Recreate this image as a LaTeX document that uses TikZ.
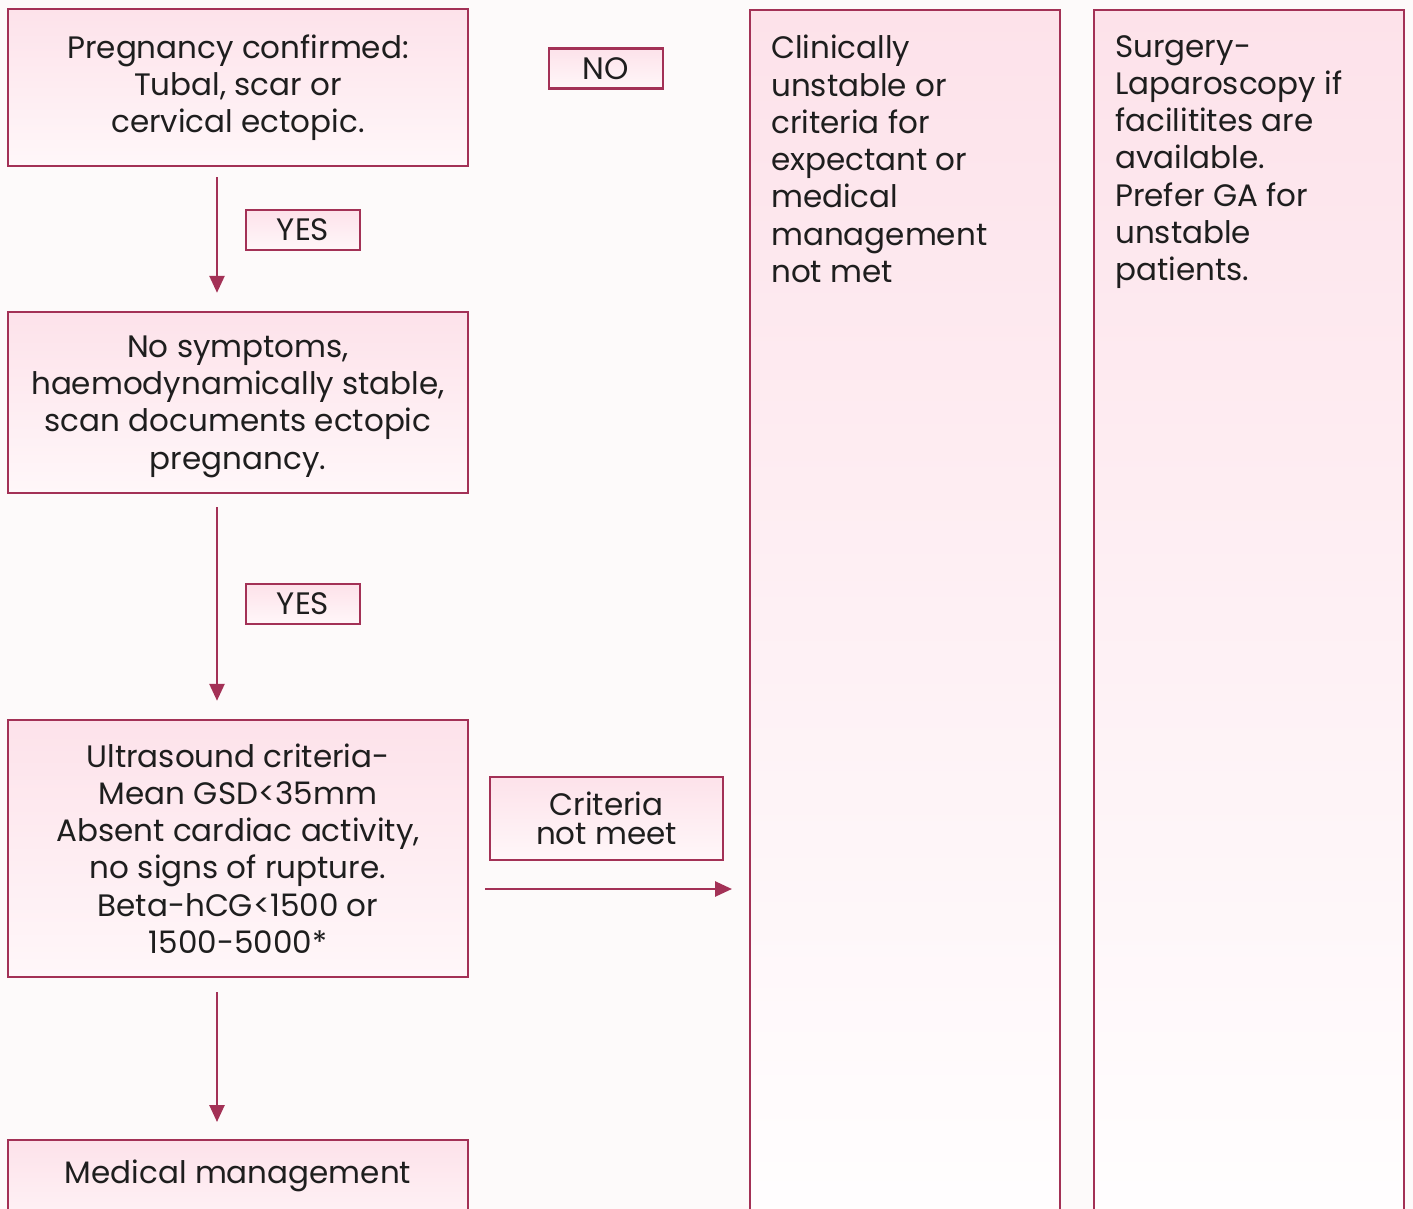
\documentclass[tikz,border=0pt]{standalone}
\usepackage{fontspec}
\setmainfont{Poppins}
\usetikzlibrary{arrows.meta, positioning, calc}
\definecolor{primary}{RGB}{163,49,86}
\definecolor{cardtop}{RGB}{253,226,234}
\definecolor{cardbot}{RGB}{255,247,249}
\definecolor{paper}{RGB}{253,250,250}
\definecolor{ink}{RGB}{30,30,30}

\tikzset{
  flowbox/.style={draw=primary, line width=2.4pt, top color=cardtop, bottom color=cardbot,
                  text=ink, align=center, inner sep=0pt, minimum width=460pt},
  tagbox/.style={flowbox, minimum width=114pt, minimum height=40pt},
  colbox/.style={draw=primary, line width=2.4pt, top color=cardtop, bottom color=white,
                 minimum width=310pt, minimum height=1260pt, anchor=north west, inner sep=0pt},
  coltext/.style={text=ink, align=left, anchor=north west, inner sep=0pt},
  flowarrow/.style={-{Triangle[length=17pt,width=15pt]}, draw=primary, line width=2.6pt},
  every node/.append style={font=\fontsize{31}{37.3}\selectfont}
}

\begin{document}
\begin{tikzpicture}[x=1pt, y=-1pt]
  \useasboundingbox (0,0) rectangle (1413,1209);
  \fill[paper] (0,0) rectangle (1413,1209);
  \clip (0,0) rectangle (1413,1209);

  % left column
  \node[flowbox, minimum height=157pt] (confirm) at (238,87.5)
    {Pregnancy confirmed:\\Tubal, scar or\\cervical ectopic.};
  \node[flowbox, minimum height=181pt, text depth=-10pt] (stable) at (238,402.5)
    {No symptoms,\\haemodynamically stable,\\scan documents ectopic\\pregnancy.};
  \node[flowbox, minimum height=257pt] (usg) at (238,848.5)
    {Ultrasound criteria-\\Mean GSD<35mm\\Absent cardiac activity,\\no signs of rupture.\\Beta-hCG<1500 or\\1500-5000*};
  \node[flowbox, anchor=north, text height=43pt, text depth=60pt] (medical) at (238,1139)
    {Medical management};

  \node[tagbox] (yesone) at (303,230) {YES};
  \node[tagbox] (yestwo) at (303,604) {YES};
  \node[tagbox] (no) at (606,68.5) {NO};
  \node[flowbox, minimum width=233pt, minimum height=83pt,
        font=\fontsize{31}{29}\selectfont] (notmeet) at (606.5,818.5) {Criteria\\not meet};

  % right columns
  \node[colbox] (unstable) at (749,9) {};
  \node[coltext] (unstabletxt) at (771,35)
    {Clinically\\unstable or\\criteria for\\expectant or\\medical\\management\\not met};
  \node[colbox] (surgery) at (1093,9) {};
  \node[coltext] (surgerytxt) at (1115,35)
    {Surgery-\\Laparoscopy if\\facilitites are\\available.\\Prefer GA for\\unstable\\patients.};

  % arrows
  \draw[flowarrow] ([xshift=-21pt,yshift=-10pt]confirm.south) -- ([xshift=-21pt,yshift=18pt]stable.north);
  \draw[flowarrow] ([xshift=-21pt,yshift=-13pt]stable.south) -- ([xshift=-21pt,yshift=18pt]usg.north);
  \draw[flowarrow] ([xshift=-21pt,yshift=-14pt]usg.south) -- ([xshift=-21pt,yshift=17pt]medical.north);
  \coordinate (arrstart) at ([xshift=16pt,yshift=-40.5pt]usg.east);
  \coordinate (arrend) at (arrstart -| unstable.west);
  \draw[flowarrow] (arrstart) -- ([xshift=-17pt]arrend);
\end{tikzpicture}
\end{document}
